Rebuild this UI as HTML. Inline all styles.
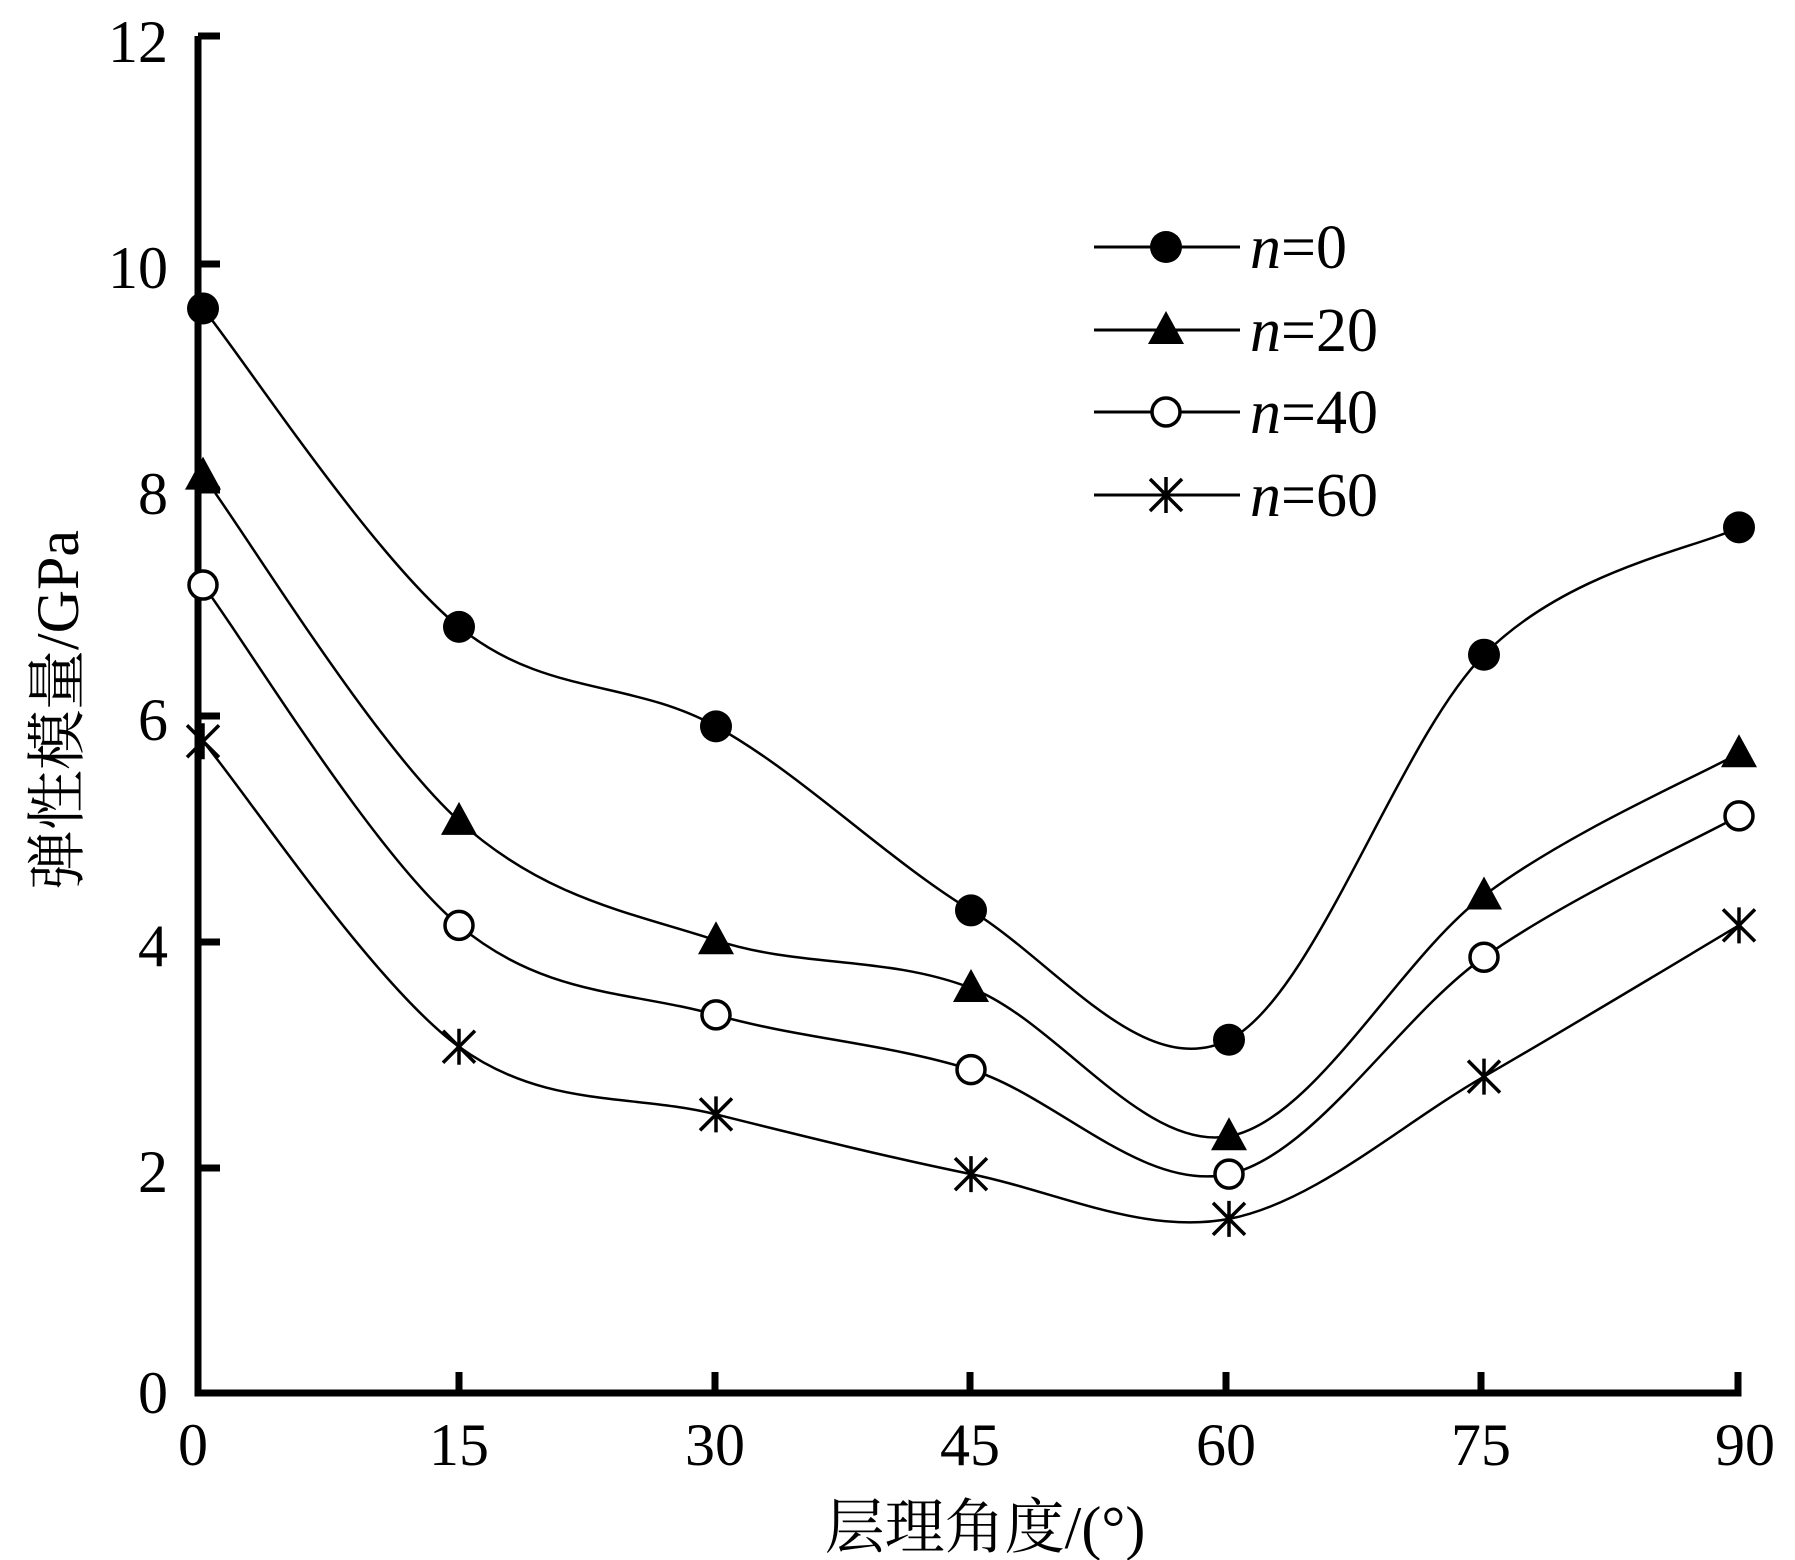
<!DOCTYPE html>
<html><head><meta charset="utf-8"><style>
html,body{margin:0;padding:0;background:#fff;}
svg{display:block;}
text{font-family:"Liberation Serif","Noto Serif CJK SC",serif;fill:#000;}
</style></head><body>
<svg id="s" width="1795" height="1560" viewBox="0 0 1795 1560" xmlns="http://www.w3.org/2000/svg">
<g stroke="#000" stroke-width="7" fill="none">
<path d="M198 36 V1393 H1738 V1372"/>
<path d="M198 36 H220 M198 264 H220 M198 490 H220 M198 716 H220 M198 942 H220 M198 1168 H220"/>
<path d="M459 1393 V1372 M715 1393 V1372 M970 1393 V1372 M1226 1393 V1372 M1481 1393 V1372"/>
</g>
<g font-size="60" text-anchor="end">
<text x="168" y="62">12</text><text x="168" y="288">10</text><text x="168" y="514">8</text>
<text x="168" y="740">6</text><text x="168" y="966">4</text><text x="168" y="1192">2</text><text x="168" y="1413">0</text>
</g>
<g font-size="60" text-anchor="middle">
<text x="193" y="1465">0</text><text x="459" y="1465">15</text><text x="715" y="1465">30</text>
<text x="970" y="1465">45</text><text x="1226" y="1465">60</text><text x="1481" y="1465">75</text><text x="1745" y="1465">90</text>
<text x="985" y="1548">层理角度/(°)</text>
<text transform="translate(78,710) rotate(-90)">弹性模量/GPa</text>
</g>
<g id="curves" stroke="#000" stroke-width="2.5" fill="none"></g>
<g id="marks"></g>
<g stroke="#000" stroke-width="3" fill="none">
<path d="M1094 247 H1240 M1094 330 H1240 M1094 412 H1240 M1094 495 H1240"/>
</g>
<g id="lm"></g>
<g font-size="62">
<text x="1250" y="268"><tspan font-style="italic">n</tspan>=0</text>
<text x="1250" y="351"><tspan font-style="italic">n</tspan>=20</text>
<text x="1250" y="433"><tspan font-style="italic">n</tspan>=40</text>
<text x="1250" y="516"><tspan font-style="italic">n</tspan>=60</text>
</g>
</svg>
<script>
var X=[203,459,716,971,1229,1484,1739];
var D=[[310,630,730,915,1045,658,530],[478,825,945,993,1142,900,757],[588,930,1020,1075,1180,962,820],[745,1052,1120,1180,1225,1082,930]];
var NS="http://www.w3.org/2000/svg";
function el(t,a,p){var e=document.createElementNS(NS,t);for(var k in a)e.setAttribute(k,a[k]);p.appendChild(e);return e;}
var cg=document.getElementById('curves'),mg=document.getElementById('marks'),lm=document.getElementById('lm');
function marker(i,x,y,g){
 if(i==0)el('circle',{cx:x,cy:y,r:16,fill:'#000'},g);
 else if(i==1)el('polygon',{points:(x)+','+(y-19)+' '+(x-18)+','+(y+14)+' '+(x+18)+','+(y+14),fill:'#000'},g);
 else if(i==2)el('circle',{cx:x,cy:y,r:14,fill:'#fff',stroke:'#000','stroke-width':3.5},g);
 else el('path',{d:'M'+(x-16)+' '+(y-16)+'L'+(x+16)+' '+(y+16)+'M'+(x-16)+' '+(y+16)+'L'+(x+16)+' '+(y-16)+'M'+x+' '+(y-18)+'V'+(y+18),stroke:'#000','stroke-width':3.5},g);
}
D.forEach(function(Y,i){
 var P=X.map(function(x,j){return [x,Y[j]*0.995];});
 var d='M'+P[0][0]+' '+P[0][1];
 for(var j=0;j<P.length-1;j++){
  var p0=P[Math.max(j-1,0)],p1=P[j],p2=P[j+1],p3=P[Math.min(j+2,P.length-1)];
  var c1=[p1[0]+(p2[0]-p0[0])/6,p1[1]+(p2[1]-p0[1])/6],c2=[p2[0]-(p3[0]-p1[0])/6,p2[1]-(p3[1]-p1[1])/6];
  d+='C'+c1[0]+' '+c1[1]+' '+c2[0]+' '+c2[1]+' '+p2[0]+' '+p2[1];
 }
 el('path',{d:d},cg);
 P.forEach(function(p){marker(i,p[0],p[1],mg);});
 marker(i,1166,[247,330,412,495][i],lm);
});
</script>
</body></html>
